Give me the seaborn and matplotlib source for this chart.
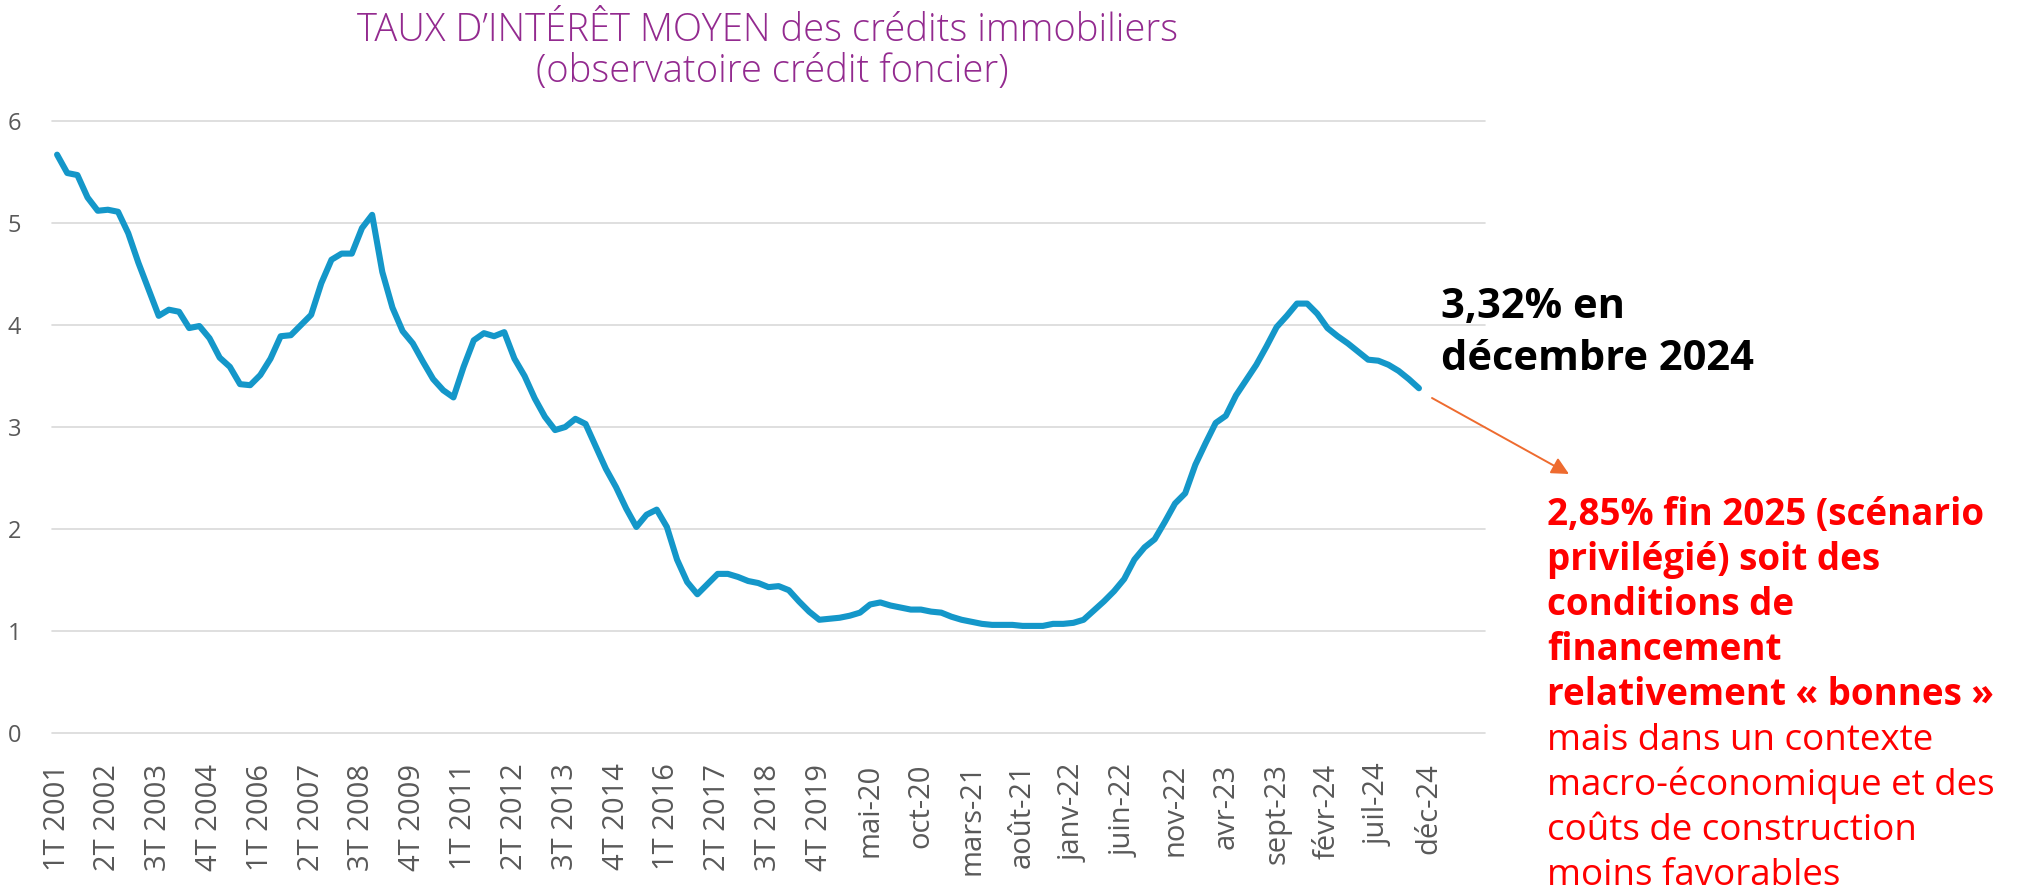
import matplotlib
matplotlib.use("Agg")
import matplotlib.pyplot as plt
import seaborn as sns
import numpy as np
import pandas as pd

# taux moyen trimestriels 1T 2001 -> 4T 2019
quarterly_rates = [
    5.67, 5.49, 5.47, 5.25, 5.12, 5.13, 5.11, 4.90, 4.61, 4.35,
    4.09, 4.15, 4.13, 3.97, 3.99, 3.87, 3.68, 3.59, 3.42, 3.41,
    3.51, 3.67, 3.89, 3.90, 4.00, 4.10, 4.41, 4.64, 4.70, 4.70,
    4.95, 5.08, 4.52, 4.17, 3.94, 3.82, 3.64, 3.47, 3.36, 3.29,
    3.59, 3.85, 3.92, 3.89, 3.93, 3.67, 3.50, 3.28, 3.10, 2.97,
    3.00, 3.08, 3.03, 2.81, 2.59, 2.41, 2.20, 2.02, 2.14, 2.19,
    2.02, 1.70, 1.48, 1.36, 1.46, 1.56, 1.56, 1.53, 1.49, 1.47,
    1.43, 1.44, 1.40, 1.29, 1.19, 1.11,
]
# taux moyens mensuels janv-20 -> nov-24
monthly_rates = [
    1.12, 1.13, 1.15, 1.18, 1.26, 1.28, 1.25, 1.23, 1.21, 1.21,
    1.19, 1.18, 1.14, 1.11, 1.09, 1.07, 1.06, 1.06, 1.06, 1.05,
    1.05, 1.05, 1.07, 1.07, 1.08, 1.11, 1.20, 1.29, 1.39, 1.51,
    1.70, 1.82, 1.90, 2.07, 2.25, 2.35, 2.63, 2.84, 3.04, 3.11,
    3.31, 3.46, 3.61, 3.79, 3.98, 4.09, 4.21, 4.21, 4.11, 3.97,
    3.89, 3.82, 3.74, 3.66, 3.65, 3.61, 3.55, 3.47, 3.38,
]
tick_labels = [
    "1T 2001", "2T 2002", "3T 2003", "4T 2004", "1T 2006", "2T 2007",
    "3T 2008", "4T 2009", "1T 2011", "2T 2012", "3T 2013", "4T 2014",
    "1T 2016", "2T 2017", "3T 2018", "4T 2019", "mai-20", "oct-20",
    "mars-21", "août-21", "janv-22", "juin-22", "nov-22", "avr-23",
    "sept-23", "févr-24", "juil-24", "déc-24",
]
y_ticks = [0, 1, 2, 3, 4, 5, 6]

rates = quarterly_rates + monthly_rates
df = pd.DataFrame({"periode": np.arange(len(rates)), "taux": rates})

W, H = 2031, 890
sns.set_style("white")
plt.rcParams["font.family"] = ["Open Sans", "DejaVu Sans"]

fig = plt.figure(figsize=(W / 100, H / 100), dpi=100)
ax = fig.add_axes([52 / W, (H - 733) / H, (1485 - 52) / W, (733 - 121) / H])

sns.lineplot(data=df, x="periode", y="taux", ax=ax, color="#1497C9",
             linewidth=4.4, solid_capstyle="round", solid_joinstyle="round")

ax.set_xlim(-0.5, 140.5)
ax.set_ylim(0, 6)
ax.set_xticks(np.arange(0, 5 * len(tick_labels), 5))
ax.set_xticklabels(tick_labels, rotation=90, fontsize=21, color="#595959")
ax.set_yticks(y_ticks)
ax.set_yticklabels([str(v) for v in y_ticks], fontsize=17, color="#595959")
ax.tick_params(axis="both", length=0)
ax.tick_params(axis="y", pad=22)
ax.tick_params(axis="x", pad=22)
ax.set_xlabel("")
ax.set_ylabel("")
ax.yaxis.grid(True, color="#d9d9d9", linewidth=1.2)
ax.xaxis.grid(False)
for gl in ax.get_ygridlines():
    gl.set_clip_on(False)
sns.despine(ax=ax, left=True, bottom=True)
ax.set_axisbelow(True)

# titre
title_kw = dict(ha="center", va="baseline", fontsize=27.5, color="#932A8F",
                fontweight="light")
fig.text(768 / W, 1 - 41 / H, "TAUX D\u2019INTÉRÊT MOYEN des crédits immobiliers", **title_kw)
fig.text(772 / W, 1 - 82 / H, "(observatoire crédit foncier)", **title_kw)

# annotation du dernier point
for txt, yb in [("3,32% en", 318), ("décembre 2024", 370)]:
    fig.text(1441 / W, 1 - yb / H, txt, ha="left", va="baseline",
             fontsize=30, fontweight="bold", color="black")

ax.annotate("", xy=(1569 / W, 1 - 474 / H), xytext=(1432 / W, 1 - 398 / H),
            xycoords="figure fraction", textcoords="figure fraction",
            arrowprops=dict(arrowstyle="-|>", color="#EE6B2F", lw=1.4,
                            mutation_scale=26, shrinkA=0, shrinkB=0))

bold_lines = ["2,85% fin 2025 (scénario", "privilégié) soit des",
              "conditions de", "financement", "relativement « bonnes »"]
regular_lines = ["mais dans un contexte", "macro-économique et des",
                 "coûts de construction", "moins favorables"]
y0, step = 525, 45
for i, txt in enumerate(bold_lines + regular_lines):
    fig.text(1547 / W, 1 - (y0 + i * step) / H, txt, ha="left", va="baseline",
             fontsize=26.5, color="#FF0000",
             fontweight="bold" if i < len(bold_lines) else "normal")

fig.savefig("out.png", dpi=100)
